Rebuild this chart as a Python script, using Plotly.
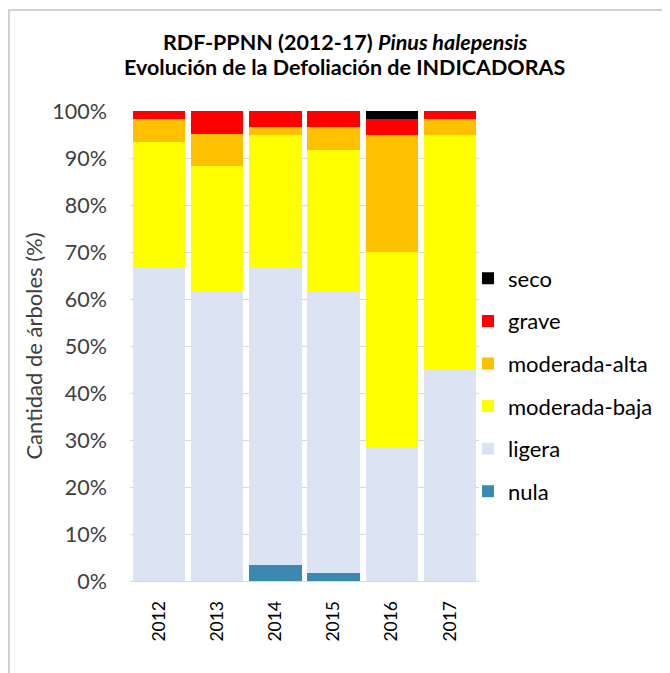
import plotly.graph_objects as go

years = ["2012", "2013", "2014", "2015", "2016", "2017"]
categories = ["nula", "ligera", "moderada-baja", "moderada-alta", "grave", "seco"]
nula = [0.0, 0.0, 3.3, 1.7, 0.0, 0.0]
ligera = [66.7, 61.7, 63.3, 60.0, 28.3, 45.0]
moderada_baja = [26.7, 26.7, 28.3, 30.0, 41.7, 50.0]
moderada_alta = [5.0, 6.7, 1.7, 5.0, 25.0, 3.3]
grave = [1.6, 4.9, 3.4, 3.3, 3.3, 1.7]
seco = [0.0, 0.0, 0.0, 0.0, 1.7, 0.0]
series = [nula, ligera, moderada_baja, moderada_alta, grave, seco]
colors = ["#3A89B0", "#DCE3F2", "#FFFF00", "#FFC000", "#FF0000", "#000000"]
y_ticks = list(range(0, 101, 10))
y_ticktext = [f"{v}%" for v in y_ticks]
title_lines = ["RDF-PPNN (2012-17) <i>Pinus halepensis</i>",
               "Evolución de la Defoliación de INDICADORAS"]

# The page body has an 8px default margin; the figure is sized to fit the window.
OFF = 8
W, H = 670 - OFF, 673 - OFF
ML = 130 - OFF
MT = 110.7 - OFF
PLOT_R = 479.5 - OFF
PLOT_B = 581.5 - OFF
MR = W - PLOT_R
MB = H - PLOT_B
PW, PH = PLOT_R - ML, PLOT_B - MT

FONT = "Lato, Open Sans, sans-serif"

fig = go.Figure()
n = len(categories)
for i, (name, vals, col) in enumerate(zip(categories, series, colors)):
    fig.add_trace(go.Bar(
        x=years, y=vals, name=name, marker=dict(color=col, line=dict(width=0)),
        legendgroup=name, legendrank=n - i,
    ))

def fx(p):
    return (p - ML) / PW

def fy(p):
    return (PLOT_B - p) / PH

fig.add_shape(type="rect", xref="paper", yref="paper",
              x0=fx(0.75), x1=fx(700), y0=fy(700), y1=fy(1.5),
              line=dict(color="#C4C4C4", width=1.5), layer="below")

for txt, yc in zip(title_lines, [34, 59]):
    fig.add_annotation(text=f"<b>{txt}</b>", xref="paper", yref="paper",
                       x=fx(345 - OFF), y=fy(yc), xanchor="center", yanchor="middle",
                       showarrow=False,
                       font=dict(family=FONT, size=21.5, color="#000000"))

fig.update_layout(
    width=W, height=H,
    margin=dict(l=ML, r=MR, t=MT, b=MB, pad=0, autoexpand=False),
    barmode="stack", bargap=0.1,
    paper_bgcolor="white", plot_bgcolor="white",
    font=dict(family=FONT, color="#404040", size=20),
    xaxis=dict(
        type="category", tickangle=-90, showgrid=False,
        showline=True, linecolor="#D9D9D9", linewidth=1,
        ticks="", ticklabelstandoff=12,
        tickfont=dict(family=FONT, size=17.5, color="#000000"),
    ),
    yaxis=dict(
        range=[0, 100], tickmode="array", tickvals=y_ticks, ticktext=y_ticktext,
        showgrid=True, gridcolor="#D9D9D9", gridwidth=1,
        zeroline=False, showline=False, ticks="",
        ticklabelstandoff=22,
        tickfont=dict(family=FONT, size=21.5, color="#404040"),
        title=dict(text="Cantidad de árboles (%)", standoff=3,
                   font=dict(family=FONT, size=22, color="#404040")),
    ),
    legend=dict(
        traceorder="grouped", tracegroupgap=11,
        xref="container", yref="container",
        x=(468 - OFF) / W, xanchor="left", y=1 - (385 - OFF) / H, yanchor="middle",
        font=dict(family=FONT, size=22, color="#000000"),
        bgcolor="rgba(0,0,0,0)",
    ),
)

fig.write_html("out.html")
